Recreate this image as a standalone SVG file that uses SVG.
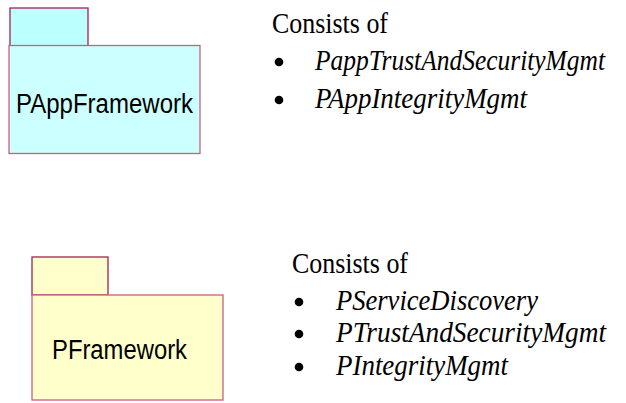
<svg xmlns="http://www.w3.org/2000/svg" width="626" height="403" viewBox="0 0 626 403">
<style>
.lbl{font-family:"Liberation Sans",Arial,sans-serif;font-size:27px;fill:#000}
.hd{font-family:"Liberation Serif","Times New Roman",serif;font-size:29px;fill:#000}
.it{font-family:"Liberation Serif","Times New Roman",serif;font-size:29px;font-style:italic;fill:#000}
.tab{stroke:#A8204F;stroke-width:1.3}
.body{stroke:#C8607F;stroke-width:1.3}
</style>
<rect width="626" height="403" fill="#fff"/>
<g id="PAppFramework">
<rect class="tab" x="10" y="8" width="78" height="38" fill="#BBFFFF"/>
<rect class="body" x="9" y="45.5" width="191" height="108" fill="#CCFFFF"/>
<text class="lbl" x="16" y="113" textLength="177" lengthAdjust="spacingAndGlyphs">PAppFramework</text>
</g>
<g id="PAppFramework-notes">
<text class="hd" x="272" y="33" textLength="116" lengthAdjust="spacingAndGlyphs">Consists of</text>
<circle cx="279" cy="62" r="4.3" fill="#000"/>
<text class="it" x="315" y="70" textLength="290" lengthAdjust="spacingAndGlyphs">PappTrustAndSecurityMgmt</text>
<circle cx="279" cy="100" r="4.3" fill="#000"/>
<text class="it" x="315" y="108" textLength="212" lengthAdjust="spacingAndGlyphs">PAppIntegrityMgmt</text>
</g>
<g id="PFramework">
<rect class="tab" x="32" y="257" width="76" height="38" fill="#FFFFCC"/>
<rect class="body" x="32" y="295" width="191" height="105" fill="#FFFFCC"/>
<text class="lbl" x="52" y="359" textLength="135" lengthAdjust="spacingAndGlyphs">PFramework</text>
</g>
<g id="PFramework-notes">
<text class="hd" x="292" y="273" textLength="116" lengthAdjust="spacingAndGlyphs">Consists of</text>
<circle cx="299" cy="302" r="4.3" fill="#000"/>
<text class="it" x="336" y="310" textLength="202" lengthAdjust="spacingAndGlyphs">PServiceDiscovery</text>
<circle cx="299" cy="334" r="4.3" fill="#000"/>
<text class="it" x="336" y="342" textLength="270" lengthAdjust="spacingAndGlyphs">PTrustAndSecurityMgmt</text>
<circle cx="299" cy="367" r="4.3" fill="#000"/>
<text class="it" x="336" y="375" textLength="172" lengthAdjust="spacingAndGlyphs">PIntegrityMgmt</text>
</g>
<g id="connectors"/>
</svg>
